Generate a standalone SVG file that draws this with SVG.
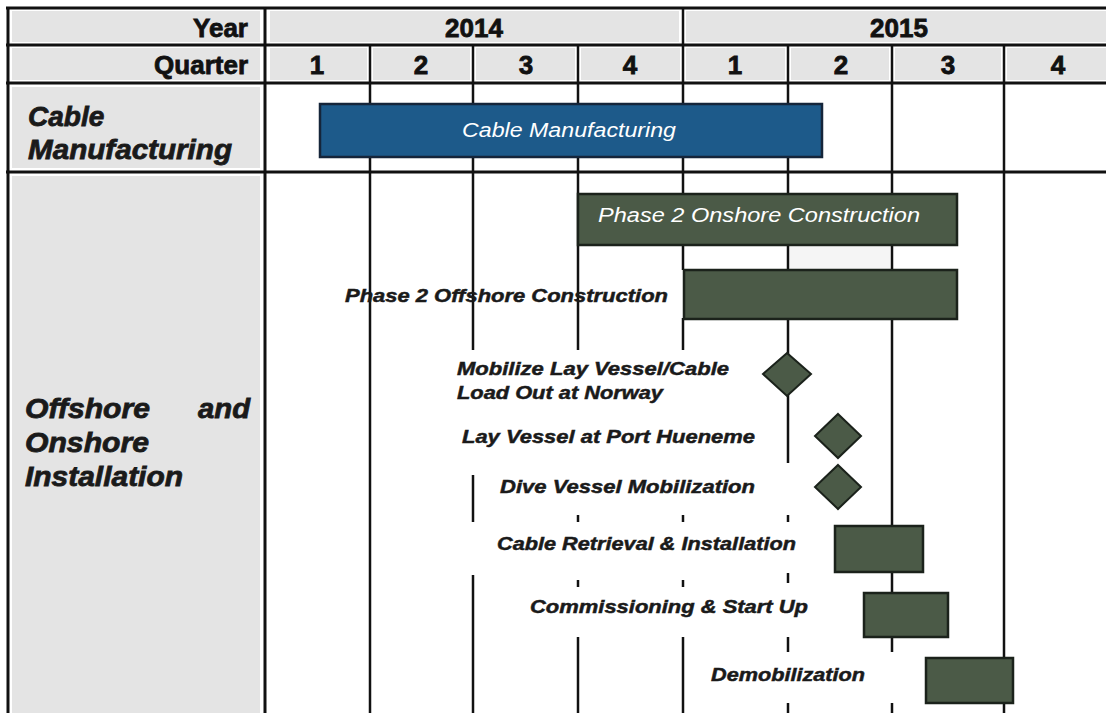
<svg xmlns="http://www.w3.org/2000/svg" width="1106" height="713" viewBox="0 0 1106 713">
<defs>
<style>
.cell{fill:#e4e4e4}
.hdr{font-family:"Liberation Sans",Arial,sans-serif;font-weight:bold;font-size:26px;fill:#111;stroke:#111;stroke-width:0.8}
.side{font-family:"Liberation Sans",Arial,sans-serif;font-weight:bold;font-style:italic;font-size:28px;fill:#1a1a1a;stroke:#1a1a1a;stroke-width:0.8}
.lbl{font-family:"Liberation Sans",Arial,sans-serif;font-weight:bold;font-style:italic;font-size:19px;fill:#1a1a1a;stroke:#1a1a1a;stroke-width:0.5}
.bartxt{font-family:"Liberation Sans",Arial,sans-serif;font-style:italic;font-size:20px;fill:#ffffff}
.g{stroke:#111;stroke-width:2.5;fill:none}
.gt{stroke:#111;stroke-width:3;fill:none}
.task{fill:#4b5a47;stroke:#1b221b;stroke-width:2.5}
.ms{fill:#4b5a47;stroke:#1b221b;stroke-width:2}
.blue{fill:#1d5a8a;stroke:#15253a;stroke-width:2.5}
</style>
</defs>
<rect width="1106" height="713" fill="#ffffff"/>

<g id="header-cells">
<rect class="cell" x="12" y="11" width="248" height="31"/>
<rect class="cell" x="270" y="11" width="409" height="31"/>
<rect class="cell" x="686" y="11" width="420" height="31"/>
<rect class="cell" x="12" y="48" width="248" height="32"/>
<rect class="cell" x="270" y="48" width="97" height="32"/>
<rect class="cell" x="373" y="48" width="97" height="32"/>
<rect class="cell" x="476" y="48" width="99" height="32"/>
<rect class="cell" x="581" y="48" width="99" height="32"/>
<rect class="cell" x="686" y="48" width="99" height="32"/>
<rect class="cell" x="791" y="48" width="98" height="32"/>
<rect class="cell" x="895" y="48" width="106" height="32"/>
<rect class="cell" x="1007" y="48" width="99" height="32"/>
<rect class="cell" x="12" y="87" width="248" height="81"/>
<rect class="cell" x="12" y="176" width="248" height="537"/>
<rect x="790" y="247" width="100" height="22" fill="#f5f5f5"/>
</g>

<g id="grid">
<line class="gt" x1="6" y1="8" x2="1106" y2="8"/>
<line class="gt" x1="6" y1="45" x2="1106" y2="45"/>
<line class="gt" x1="6" y1="83" x2="1106" y2="83"/>
<line class="gt" x1="6" y1="172" x2="1106" y2="172"/>
<line class="gt" x1="8" y1="8" x2="8" y2="713"/>
<line class="gt" x1="265" y1="8" x2="265" y2="713"/>
<line class="g" x1="683" y1="8" x2="683" y2="270"/>
<line class="g" x1="683" y1="318" x2="683" y2="350"/>
<line class="g" x1="370" y1="45" x2="370" y2="713"/>
<line class="g" x1="473" y1="45" x2="473" y2="350"/>
<line class="g" x1="578" y1="45" x2="578" y2="350"/>
<line class="g" x1="788" y1="45" x2="788" y2="463"/>
<line class="g" x1="892" y1="45" x2="892" y2="652"/>
<line class="g" x1="1004" y1="45" x2="1004" y2="713"/>
<line class="g" x1="473" y1="475" x2="473" y2="522"/>
<line class="g" x1="473" y1="575" x2="473" y2="713"/>
<line class="g" x1="578" y1="515" x2="578" y2="522"/>
<line class="g" x1="578" y1="580" x2="578" y2="587"/>
<line class="g" x1="578" y1="637" x2="578" y2="713"/>
<line class="g" x1="683" y1="515" x2="683" y2="522"/>
<line class="g" x1="683" y1="580" x2="683" y2="587"/>
<line class="g" x1="683" y1="637" x2="683" y2="713"/>
<line class="g" x1="788" y1="515" x2="788" y2="522"/>
<line class="g" x1="788" y1="573" x2="788" y2="583"/>
<line class="g" x1="788" y1="637" x2="788" y2="652"/>
<line class="g" x1="788" y1="703" x2="788" y2="713"/>
<line class="g" x1="892" y1="703" x2="892" y2="713"/>
</g>

<g id="header-text">
<text class="hdr" x="248" y="37" text-anchor="end">Year</text>
<text class="hdr" x="474" y="37" text-anchor="middle">2014</text>
<text class="hdr" x="899" y="37" text-anchor="middle">2015</text>
<text class="hdr" x="248" y="74" text-anchor="end">Quarter</text>
<text class="hdr" x="317" y="74" text-anchor="middle">1</text>
<text class="hdr" x="421" y="74" text-anchor="middle">2</text>
<text class="hdr" x="526" y="74" text-anchor="middle">3</text>
<text class="hdr" x="630" y="74" text-anchor="middle">4</text>
<text class="hdr" x="735" y="74" text-anchor="middle">1</text>
<text class="hdr" x="841" y="74" text-anchor="middle">2</text>
<text class="hdr" x="948" y="74" text-anchor="middle">3</text>
<text class="hdr" x="1058" y="74" text-anchor="middle">4</text>
</g>

<g id="row-cable">
<text class="side" x="28" y="126">Cable</text>
<text class="side" x="28" y="159" textLength="204" lengthAdjust="spacingAndGlyphs">Manufacturing</text>
</g>

<g id="row-offshore">
<text class="side" x="25" y="418" textLength="125" lengthAdjust="spacingAndGlyphs">Offshore</text>
<text class="side" x="198" y="418" textLength="52" lengthAdjust="spacingAndGlyphs">and</text>
<text class="side" x="25" y="452" textLength="124" lengthAdjust="spacingAndGlyphs">Onshore</text>
<text class="side" x="25" y="486" textLength="158" lengthAdjust="spacingAndGlyphs">Installation</text>
</g>

<g id="task-cable-manufacturing">
<rect class="blue" x="320" y="104" width="502" height="53"/>
<text class="bartxt" x="569" y="137" text-anchor="middle" textLength="214" lengthAdjust="spacingAndGlyphs">Cable Manufacturing</text>
</g>

<g id="task-onshore">
<rect class="task" x="578" y="194" width="379" height="51"/>
<text class="bartxt" x="759" y="222" text-anchor="middle" textLength="322" lengthAdjust="spacingAndGlyphs">Phase 2 Onshore Construction</text>
</g>

<g id="task-offshore">
<rect class="task" x="684" y="270" width="273" height="49"/>
<text class="lbl" x="668" y="302" text-anchor="end" textLength="323" lengthAdjust="spacingAndGlyphs">Phase 2 Offshore Construction</text>
</g>

<g id="ms-mobilize">
<polygon class="ms" points="787,353 811,374 787,396 763,374"/>
<text class="lbl" x="457" y="375" textLength="272" lengthAdjust="spacingAndGlyphs">Mobilize Lay Vessel/Cable</text>
<text class="lbl" x="457" y="399" textLength="206" lengthAdjust="spacingAndGlyphs">Load Out at Norway</text>
</g>

<g id="ms-lay-vessel">
<polygon class="ms" points="838,414 861,436 838,458 815,436"/>
<text class="lbl" x="755" y="443" text-anchor="end" textLength="293" lengthAdjust="spacingAndGlyphs">Lay Vessel at Port Hueneme</text>
</g>

<g id="ms-dive-vessel">
<polygon class="ms" points="838,465 861,487 838,509 815,487"/>
<text class="lbl" x="755" y="493" text-anchor="end" textLength="255" lengthAdjust="spacingAndGlyphs">Dive Vessel Mobilization</text>
</g>

<g id="task-cable-retrieval">
<rect class="task" x="835" y="526" width="88" height="46"/>
<text class="lbl" x="796" y="550" text-anchor="end" textLength="299" lengthAdjust="spacingAndGlyphs">Cable Retrieval &amp; Installation</text>
</g>

<g id="task-commissioning">
<rect class="task" x="864" y="593" width="84" height="44"/>
<text class="lbl" x="808" y="613" text-anchor="end" textLength="278" lengthAdjust="spacingAndGlyphs">Commissioning &amp; Start Up</text>
</g>

<g id="task-demobilization">
<rect class="task" x="926" y="658" width="87" height="45"/>
<text class="lbl" x="865" y="681" text-anchor="end" textLength="154" lengthAdjust="spacingAndGlyphs">Demobilization</text>
</g>
</svg>
